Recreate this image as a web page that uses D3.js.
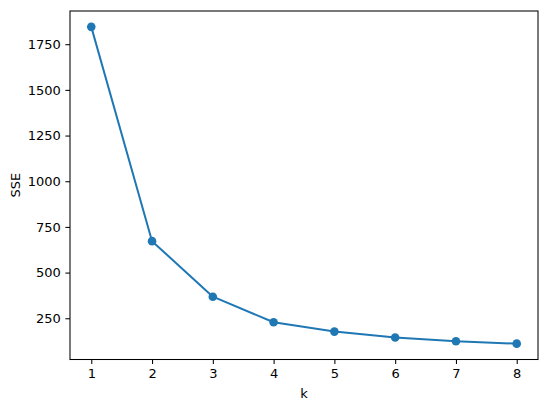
<!DOCTYPE html>
<meta charset="utf-8">
<style>
  body { margin: 0; background: #fff; }
  svg { font-family: "DejaVu Sans", sans-serif; }
  .axis text { font-family: "DejaVu Sans", sans-serif; font-size: 13px; fill: #000; }
  .axis line { stroke: #000; stroke-width: 1.05; }
  .axis path.domain { display: none; }
  .frame { fill: none; stroke: #000; stroke-width: 1.05; }
  .label { font-family: "DejaVu Sans", sans-serif; font-size: 13px; fill: #000; }
</style>
<body></body>
<script src="https://cdn.jsdelivr.net/npm/d3@7"></script>
<script>

// elbow curve: number of clusters vs SSE
var kValues = [1, 2, 3, 4, 5, 6, 7, 8];
var sseValues = [1845, 672, 368, 228, 177, 145, 124, 111];
var yTicks = [250, 500, 750, 1000, 1250, 1500, 1750];

var data = kValues.map(function(k, i) { return {k: k, sse: sseValues[i]}; });

var margin = {top: 11, right: 12, bottom: 45.5, left: 70};
var W = 550, H = 405;
var w = W - margin.left - margin.right,
    h = H - margin.top - margin.bottom;

var svg = d3.select("body").append("svg")
    .attr("width", W)
    .attr("height", H);

var g = svg.append("g")
    .attr("transform", "translate(" + margin.left + "," + margin.top + ")");

// matplotlib style 5% margins
var xpad = (d3.max(kValues) - d3.min(kValues)) * 0.05;
var ypad = (d3.max(sseValues) - d3.min(sseValues)) * 0.05;

var x = d3.scaleLinear()
    .domain([d3.min(kValues) - xpad, d3.max(kValues) + xpad])
    .range([0, w]);

var y = d3.scaleLinear()
    .domain([d3.min(sseValues) - ypad, d3.max(sseValues) + ypad])
    .range([h, 0]);

g.append("g")
    .attr("class", "axis")
    .attr("transform", "translate(0," + h + ")")
    .call(d3.axisBottom(x).tickValues(kValues).tickFormat(d3.format("d")).tickSize(4.6).tickPadding(4.6))
    .attr("font-family", "DejaVu Sans");

g.append("g")
    .attr("class", "axis")
    .call(d3.axisLeft(y).tickValues(yTicks).tickFormat(d3.format("d")).tickSize(4.6).tickPadding(4.6))
    .attr("font-family", "DejaVu Sans");

var line = d3.line()
    .x(function(d) { return x(d.k); })
    .y(function(d) { return y(d.sse); });

g.append("path")
    .datum(data)
    .attr("d", line)
    .attr("fill", "none")
    .attr("stroke", "#1f77b4")
    .attr("stroke-width", 2)
    .attr("stroke-linejoin", "round")
    .attr("stroke-linecap", "square");

g.selectAll("circle.pt")
    .data(data)
    .enter()
    .append("circle")
    .attr("class", "pt")
    .attr("cx", function(d) { return x(d.k); })
    .attr("cy", function(d) { return y(d.sse); })
    .attr("r", 4.3)
    .attr("fill", "#1f77b4");

g.append("rect")
    .attr("class", "frame")
    .attr("width", w)
    .attr("height", h);

svg.append("text")
    .attr("class", "label")
    .attr("x", margin.left + w / 2)
    .attr("y", 398)
    .attr("text-anchor", "middle")
    .text("k");

svg.append("text")
    .attr("class", "label")
    .attr("transform", "translate(20," + (margin.top + h / 2) + ") rotate(-90)")
    .attr("text-anchor", "middle")
    .text("SSE");

</script>
